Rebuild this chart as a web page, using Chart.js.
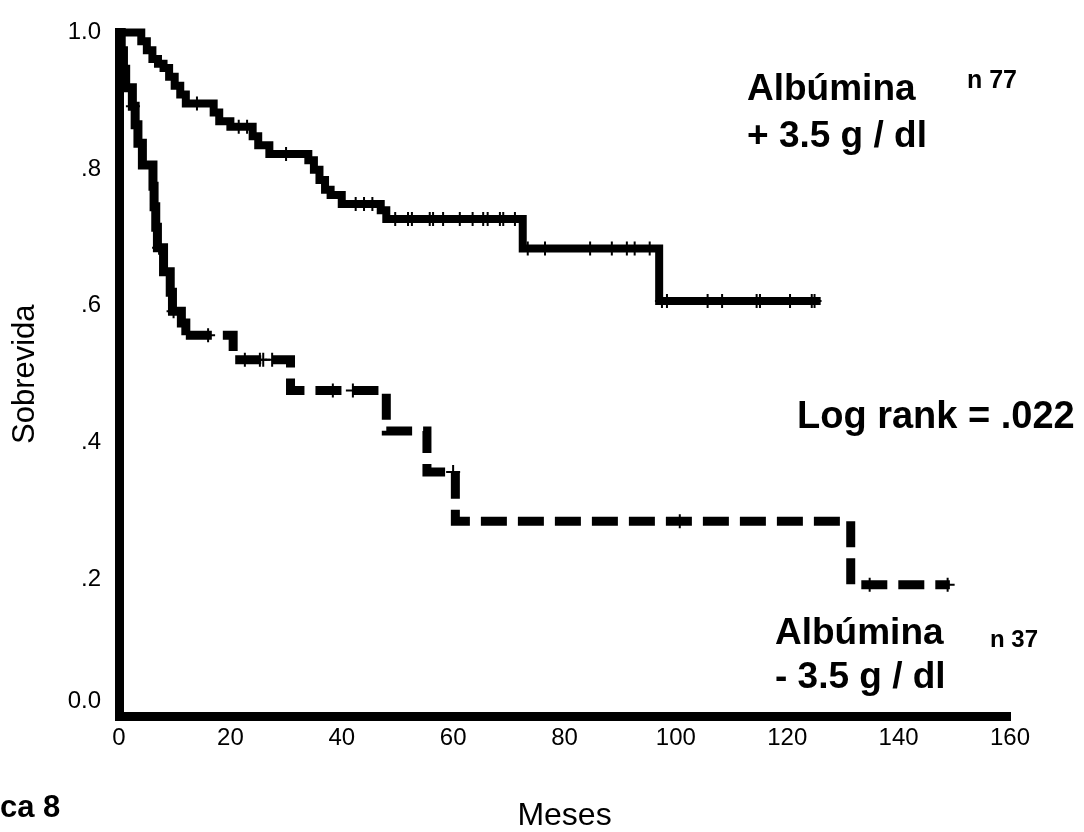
<!DOCTYPE html>
<html>
<head>
<meta charset="utf-8">
<script src="https://cdn.jsdelivr.net/npm/chart.js@4/dist/chart.umd.min.js"></script>
<style>
  html, body { margin: 0; padding: 0; background: #fff; }
  #wrap { width: 1084px; height: 832px; position: relative; }
</style>
</head>
<body>
<div id="wrap"><canvas id="c" width="1084" height="832"></canvas></div>
<script>
// ---- Data (months, survival proportion) ----
const upperT = [0, 4, 5, 6, 7, 8, 9, 10, 11, 12, 17, 18, 20, 24, 25, 27, 34, 35, 36, 37, 38, 40, 47, 48, 72.5, 97, 126];
const upperS = [1.0, .987, .974, .961, .954, .948, .935, .922, .909, .896, .883, .870, .862, .848, .835, .822, .813, .799, .784, .770, .762, .749, .740, .727, .684, .607, .607];

const lowerT = [0, 0.4, 0.8, 1.2, 2.4, 2.9, 3.4, 4.2, 6.1, 6.3, 6.6, 6.9, 8.0, 9.2, 9.6, 11.2, 12.0, 20.5, 30.8, 48.0, 55.3, 60.4, 131.4, 149.2];
const lowerS = [1.0, .973, .946, .919, .892, .865, .838, .806, .775, .745, .715, .685, .650, .620, .592, .575, .557, .521, .476, .417, .357, .285, .192, .192];

const upperCensorT = [14, 21.5, 23, 30, 42.5, 44, 45.5, 49.6, 51.9, 52.6, 55.8, 56.4, 58.2, 61.2, 63.5, 65.4, 66.2, 68.4, 69.0, 71.1, 73.4, 76.5, 84.6, 88.5, 91.2, 92.6, 95.3, 97.5, 98.4, 105.7, 108.3, 114.5, 115.1, 120.5, 124.4, 124.9];
const upperCensorS = [.896, .862, .862, .822, .749, .749, .749, .727, .727, .727, .727, .727, .727, .727, .727, .727, .727, .727, .727, .727, .684, .684, .684, .684, .684, .684, .684, .607, .607, .607, .607, .607, .607, .607, .607, .607];

const lowerCensorT = [2.5, 7.2, 9.8, 16, 22.6, 25.3, 25.9, 27.5, 38.4, 42, 60.0, 100.7, 134.8, 148.8];
const lowerCensorS = [.892, .685, .592, .557, .521, .521, .521, .521, .476, .476, .357, .285, .192, .192];

const xTicks = [0, 20, 40, 60, 80, 100, 120, 140, 160];
const yTicks = [0, 0.2, 0.4, 0.6, 0.8, 1.0];
const yTickLabels = ['0.0', '.2', '.4', '.6', '.8', '1.0'];

const toPts = (t, s) => t.map((v, i) => ({x: v, y: s[i]}));

// ---- Annotation texts ----
const annotations = [
  {text: 'Albúmina', x: 747, y: 100, font: 'bold 37px "Liberation Sans", Arial, sans-serif'},
  {text: 'n 77', x: 967, y: 88, font: 'bold 25px "Liberation Sans", Arial, sans-serif'},
  {text: '+ 3.5 g / dl', x: 747, y: 147, font: 'bold 37px "Liberation Sans", Arial, sans-serif'},
  {text: 'Log rank = .022', x: 797, y: 428, font: 'bold 38px "Liberation Sans", Arial, sans-serif'},
  {text: 'Albúmina', x: 775, y: 644, font: 'bold 37px "Liberation Sans", Arial, sans-serif'},
  {text: 'n 37', x: 990, y: 647, font: 'bold 24px "Liberation Sans", Arial, sans-serif'},
  {text: '- 3.5 g / dl', x: 775, y: 688, font: 'bold 37px "Liberation Sans", Arial, sans-serif'},
  {text: 'ca 8', x: 0, y: 817, font: 'bold 31px "Liberation Sans", Arial, sans-serif'}
];

const textPlugin = {
  id: 'texts',
  afterDraw(chart) {
    const ctx = chart.ctx;
    ctx.save();
    ctx.fillStyle = '#000';
    ctx.textAlign = 'left';
    ctx.textBaseline = 'alphabetic';
    annotations.forEach(a => { ctx.font = a.font; ctx.fillText(a.text, a.x, a.y); });
    ctx.restore();
  }
};

Chart.defaults.font.family = '"Liberation Sans", Arial, sans-serif';
Chart.defaults.color = '#000';

new Chart(document.getElementById('c'), {
  type: 'line',
  data: {
    datasets: [
      {
        label: 'Albúmina + 3.5 g / dl',
        data: toPts(upperT, upperS),
        borderColor: '#000', borderWidth: 8, stepped: 'before',
        pointRadius: 0, fill: false, clip: false,
        borderJoinStyle: 'miter'
      },
      {
        label: 'Albúmina - 3.5 g / dl',
        data: toPts(lowerT, lowerS),
        borderColor: '#000', borderWidth: 9, stepped: 'before',
        pointRadius: 0, fill: false, clip: false,
        borderJoinStyle: 'miter',
        segment: { borderDash: ctx => ctx.p0.parsed.x >= 12 ? [26, 11] : undefined }
      },
      {
        type: 'scatter', label: 'censor +',
        data: toPts(upperCensorT, upperCensorS),
        pointStyle: 'cross', pointRadius: 7, pointBorderWidth: 2,
        borderColor: '#000', backgroundColor: '#000', showLine: false, clip: false
      },
      {
        type: 'scatter', label: 'censor -',
        data: toPts(lowerCensorT, lowerCensorS),
        pointStyle: 'cross', pointRadius: 7, pointBorderWidth: 2,
        borderColor: '#000', backgroundColor: '#000', showLine: false, clip: false
      }
    ]
  },
  options: {
    responsive: false,
    devicePixelRatio: 1,
    animation: false,
    layout: { padding: { top: 18, right: 74, bottom: 0, left: 0 } },
    plugins: { legend: { display: false }, tooltip: { enabled: false } },
    scales: {
      x: {
        type: 'linear', min: 0, max: 160,
        afterFit: s => { s.height = 116; },
        afterBuildTicks: s => { s.ticks = xTicks.map(v => ({value: v})); },
        grid: { display: false, drawTicks: false },
        border: { display: true, width: 9, color: '#000' },
        ticks: { padding: 8, color: '#000', font: { size: 24 }, maxRotation: 0,
                 callback: v => String(v) },
        title: { display: true, text: 'Meses', color: '#000',
                 font: { size: 32, lineHeight: 1 }, padding: { top: 0, bottom: 0 } }
      },
      y: {
        type: 'linear', min: 0, max: 1,
        afterFit: s => { s.width = 119; },
        afterBuildTicks: s => { s.ticks = yTicks.map(v => ({value: v})); },
        grid: { display: false, drawTicks: false },
        border: { display: true, width: 9, color: '#000' },
        ticks: { padding: 18, color: '#000', font: { size: 24 },
                 callback: v => {
                   const i = yTicks.findIndex(t => Math.abs(t - v) < 1e-6);
                   const lab = i >= 0 ? yTickLabels[i] : '';
                   return v === 0 ? [lab, ''] : lab;
                 } },
        title: { display: true, text: 'Sobrevida', color: '#000',
                 font: { size: 31, lineHeight: 1 }, padding: { top: 10, bottom: 0 } }
      }
    }
  },
  plugins: [textPlugin]
});
</script>
</body>
</html>
